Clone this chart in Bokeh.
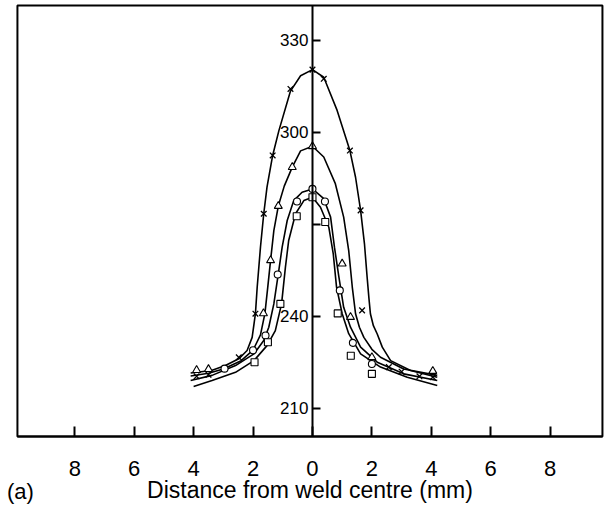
from bokeh.plotting import figure
from bokeh.models import Range1d, FixedTicker, Label, BoxAnnotation
from bokeh.embed import file_html
from bokeh.resources import INLINE

# ---- data (distance mm, hardness) ----
# fitted curves
x_curve_x = [-4.1, -3.4, -2.93, -2.48, -2.2, -2.03, -1.92, -1.86, -1.75, -1.64, -1.53, -1.34, -1.13, -0.74, -0.4, 0.0,
             0.38, 0.83, 1.26, 1.45, 1.62, 1.75, 1.84, 1.9, 1.95, 2.05, 2.18, 2.35, 2.63, 3.3, 4.2]
x_curve_v = [221.6, 222.4, 224.0, 226.2, 228.9, 233.2, 240.9, 249.6, 262.6, 273.5, 282.2, 292.5, 300.6, 313.5, 318.5, 320.5,
             318.0, 307.2, 294.1, 285.4, 274.6, 263.7, 252.8, 246.0, 240.9, 237.0, 234.3, 230.0, 225.6, 222.4, 220.2]

tri_curve_x = [-4.1, -3.5, -3.0, -2.4, -2.0, -1.75, -1.6, -1.5, -1.41, -1.3, -1.15, -0.95, -0.68, -0.4, 0.0,
               0.38, 0.77, 1.05, 1.22, 1.34, 1.45, 1.58, 1.73, 2.0, 2.29, 3.07, 4.2]
tri_curve_v = [220.6, 221.5, 222.9, 225.6, 229.0, 234.0, 241.0, 250.0, 258.3, 268.0, 276.0, 282.5, 288.7, 294.0, 295.5,
               292.0, 283.3, 272.4, 261.5, 249.6, 240.9, 236.5, 233.2, 229.3, 226.7, 222.9, 220.8]

cir_curve_x = [-4.1, -3.38, -2.59, -1.97, -1.64, -1.47, -1.3, -1.15, -1.02, -0.85, -0.63, -0.35, 0.0,
               0.38, 0.61, 0.74, 0.89, 1.05, 1.28, 1.62, 2.18, 3.07, 4.2]
cir_curve_v = [219.1, 220.8, 224.0, 227.8, 232.2, 236.5, 244.1, 253.9, 262.6, 271.3, 277.8, 280.5, 281.6,
               278.4, 272.4, 262.6, 252.8, 243.0, 236.5, 230.0, 225.1, 221.3, 219.1]

sq_curve_x = [-4.0, -3.38, -2.59, -1.97, -1.53, -1.25, -1.04, -0.91, -0.8, -0.57, -0.29, 0.0,
              0.27, 0.55, 0.7, 0.81, 1.0, 1.22, 1.62, 2.29, 3.19, 4.2]
sq_curve_v = [217.2, 219.1, 221.8, 225.6, 230.5, 235.4, 244.1, 256.1, 264.8, 273.5, 277.8, 278.9,
              275.6, 269.1, 260.4, 249.6, 240.9, 234.4, 227.8, 223.5, 220.2, 217.5]

# measured points
x_pts_x = [0.0, -0.74, 0.38, -1.34, 1.26, -1.64, 1.62, -1.92, 1.67, -2.48, 2.57, -3.5, -3.9, 3.0, 3.6, 4.05]
x_pts_v = [320.5, 314.2, 317.5, 292.5, 294.1, 273.5, 274.6, 240.9, 242.0, 226.7, 223.5, 221.0, 220.5, 222.0, 220.5, 220.2]

tri_pts_x = [0.0, -0.68, -1.15, -1.41, -1.65, -3.5, -3.9, 1.0, 1.28, 2.0, 4.05]
tri_pts_v = [295.5, 288.7, 276.0, 258.3, 241.0, 222.8, 222.5, 257.2, 239.8, 226.7, 222.2]

cir_pts_x = [0.0, -0.52, 0.42, -1.17, -1.58, -2.0, -2.96, 0.92, 1.36, 2.0]
cir_pts_v = [281.6, 277.5, 277.5, 253.7, 233.8, 229.0, 223.0, 248.5, 231.4, 224.5]

sq_pts_x = [0.0, -0.53, 0.43, -1.08, -1.5, -1.95, 0.85, 1.29, 2.0]
sq_pts_v = [278.9, 272.7, 270.8, 244.1, 231.6, 225.1, 241.0, 227.2, 221.3]

x_ticks = [-8, -6, -4, -2, 0, 2, 4, 6, 8]
x_tick_labels = ["8", "6", "4", "2", "0", "2", "4", "6", "8"]
y_ticks = [210, 240, 270, 300, 330]
y_tick_labels = ["210", "240", "", "300", "330"]

# plotted box (axis extents) and the full canvas extent in data units
BOX_X = (-9.93, 9.76)
BOX_Y = (200.87, 341.4)
VIEW_X = (-10.50, 9.93)
VIEW_Y = (177.72, 343.03)

FONT = "Liberation Sans"

p = figure(width=607, height=507, x_range=Range1d(*VIEW_X), y_range=Range1d(*VIEW_Y),
           output_backend="svg", toolbar_location=None,
           min_border_left=0, min_border_right=0, min_border_top=0, min_border_bottom=0)
p.background_fill_color = "white"
p.border_fill_color = "white"
p.grid.visible = False
p.outline_line_color = None

# box around the plot
p.add_layout(BoxAnnotation(left=BOX_X[0], right=BOX_X[1], bottom=BOX_Y[0], top=BOX_Y[1],
                           fill_alpha=0, line_color="black", line_width=2, line_alpha=1))

# x axis along the bottom of the box
xa = p.xaxis[0]
xa.fixed_location = BOX_Y[0]
xa.bounds = BOX_X
xa.ticker = FixedTicker(ticks=x_ticks)
xa.major_label_overrides = {t: l for t, l in zip(x_ticks, x_tick_labels)}
xa.major_tick_in = 10
xa.major_tick_out = 0
xa.minor_tick_line_color = None
xa.major_tick_line_width = 2
xa.axis_line_width = 2
xa.major_label_text_font = FONT
xa.major_label_text_font_size = "22px"
xa.major_label_text_color = "black"
xa.major_label_standoff = 25
xa.axis_label = "Distance from weld centre (mm)"
xa.axis_label_text_font = FONT
xa.axis_label_text_font_style = "normal"
xa.axis_label_text_font_size = "23px"
xa.axis_label_text_color = "black"
xa.axis_label_standoff = -3

# y axis at x = 0
ya = p.yaxis[0]
ya.fixed_location = 0
ya.bounds = BOX_Y
ya.ticker = FixedTicker(ticks=y_ticks)
ya.major_label_overrides = {t: l for t, l in zip(y_ticks, y_tick_labels)}
ya.major_tick_in = 8
ya.major_tick_out = 0
ya.minor_tick_line_color = None
ya.major_tick_line_width = 2
ya.axis_line_width = 2
ya.major_label_text_font = FONT
ya.major_label_text_font_size = "17px"
ya.major_label_text_color = "black"
ya.major_label_standoff = 4

# curves
for cx, cv in [(x_curve_x, x_curve_v), (tri_curve_x, tri_curve_v),
               (cir_curve_x, cir_curve_v), (sq_curve_x, sq_curve_v)]:
    p.line(cx, cv, line_color="black", line_width=1.6)

# markers
p.scatter(x_pts_x, x_pts_v, marker="x", size=8, line_color="black", line_width=1.3)
p.scatter(tri_pts_x, tri_pts_v, marker="triangle", size=8, line_color="black", fill_color="white", line_width=1.1)
p.scatter(cir_pts_x, cir_pts_v, marker="circle", size=7, line_color="black", fill_color="white", line_width=1.1)
p.scatter(sq_pts_x, sq_pts_v, marker="square", size=7, line_color="black", fill_color="white", line_width=1.1)

# panel tag "(a)"
p.add_layout(Label(x=-9.83, y=182.9, text="(a)", text_font=FONT,
                   text_font_size="22px", text_align="center", text_baseline="middle", text_color="black"))

open("out.html", "w").write(file_html(p, INLINE))
